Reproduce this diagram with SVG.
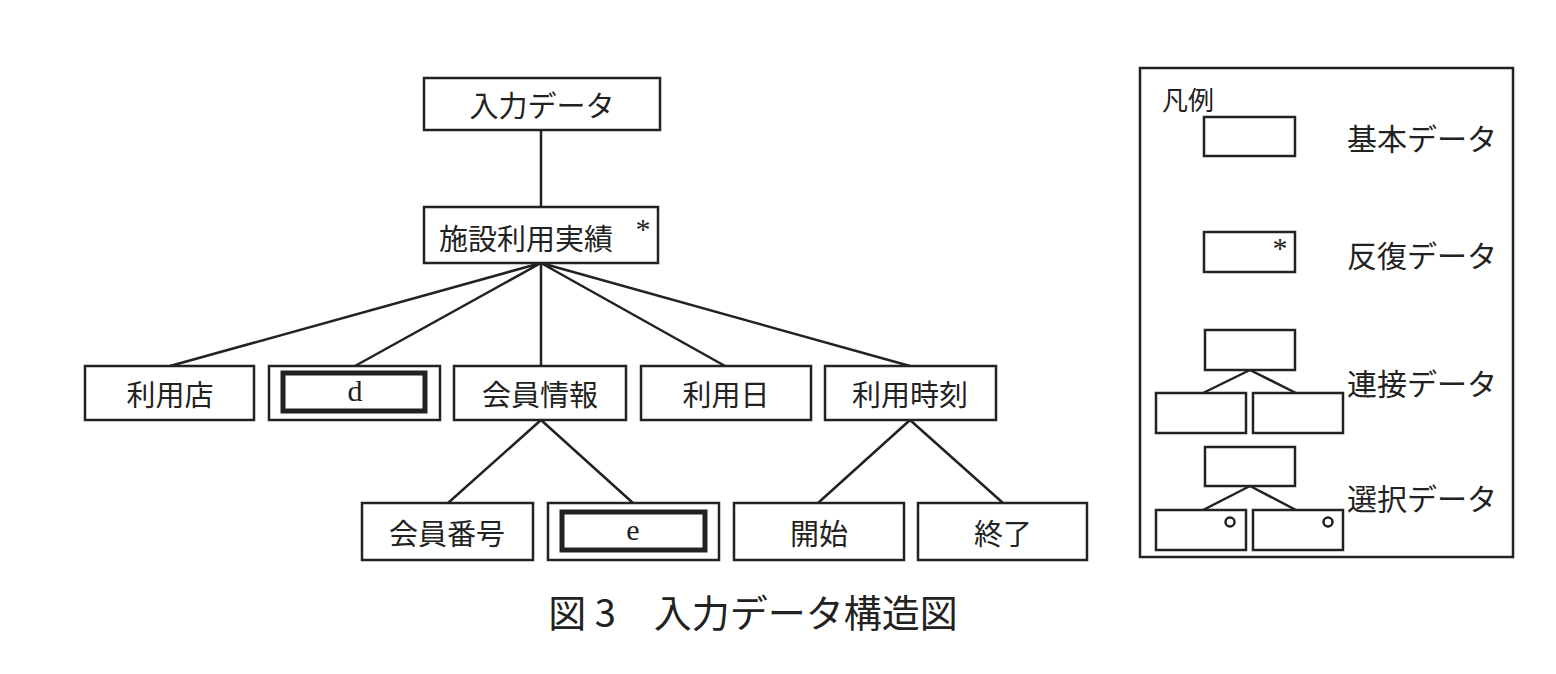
<svg xmlns="http://www.w3.org/2000/svg" width="1556" height="674" viewBox="0 0 1556 674">
<style>
.b{fill:#fff;stroke:#222;stroke-width:2.5}
.in{fill:none;stroke:#222;stroke-width:5}
.l{stroke:#222;stroke-width:2.5;fill:none}
text{font-family:"Noto Sans CJK JP","Liberation Serif",serif;font-size:29px;fill:#222;text-anchor:middle;dominant-baseline:central}
.s{font-family:"Liberation Serif",serif;font-size:30px}
.g{font-size:30px}
</style>
<rect width="1556" height="674" fill="#fff"/>
<g id="connectors">
<path class="l" d="M541 130V207M541 263L170 366M541 263L355 366M541 263V366M541 263L725 366M541 263L910 366M541 420L448 503M541 420L633 503M910 420L818 503M910 420L1003 503"/>
</g>
<g id="n-input"><rect class="b" x="424" y="78" width="236" height="52"/><text x="542" y="104">入力データ</text></g>
<g id="n-shisetsu"><rect class="b" x="424" y="207" width="234" height="56"/><text x="526" y="237">施設利用実績</text><text class="s" x="643" y="228">*</text></g>
<g id="n-riyouten"><rect class="b" x="85" y="366" width="169" height="54"/><text x="170" y="393">利用店</text></g>
<g id="n-d"><rect class="b" x="269" y="366" width="171" height="54"/><rect class="in" x="283" y="373" width="142" height="38"/><text class="s" x="355" y="390">d</text></g>
<g id="n-kaiin"><rect class="b" x="454" y="366" width="172" height="54"/><text x="540" y="393">会員情報</text></g>
<g id="n-riyoubi"><rect class="b" x="641" y="366" width="170" height="54"/><text x="726" y="393">利用日</text></g>
<g id="n-jikoku"><rect class="b" x="825" y="366" width="171" height="54"/><text x="910" y="393">利用時刻</text></g>
<g id="n-bangou"><rect class="b" x="362" y="503" width="171" height="57"/><text x="447" y="532">会員番号</text></g>
<g id="n-e"><rect class="b" x="548" y="503" width="171" height="57"/><rect class="in" x="562" y="512" width="143" height="38"/><text class="s" x="633" y="529">e</text></g>
<g id="n-kaishi"><rect class="b" x="734" y="503" width="170" height="57"/><text x="819" y="532">開始</text></g>
<g id="n-shuryo"><rect class="b" x="918" y="503" width="169" height="57"/><text x="1003" y="532">終了</text></g>
<text x="753" y="610" style="font-size:38px">図 3　入力データ構造図</text>
<g id="legend">
<rect class="b" x="1140" y="68" width="373" height="489"/>
<text x="1188" y="98" style="font-size:26px">凡例</text>
<rect class="b" x="1204" y="117" width="91" height="39"/><text class="g" x="1422" y="137">基本データ</text>
<rect class="b" x="1204" y="232" width="91" height="40"/><text class="s" x="1280" y="247">*</text><text class="g" x="1422" y="254">反復データ</text>
<rect class="b" x="1205" y="330" width="90" height="40"/>
<rect class="b" x="1156" y="393" width="90" height="40"/><rect class="b" x="1253" y="393" width="90" height="40"/>
<path class="l" d="M1250 370L1203 393M1250 370L1296 393M1250 486L1203 510M1250 486L1296 510"/>
<text class="g" x="1422" y="382">連接データ</text>
<rect class="b" x="1205" y="447" width="90" height="39"/>
<rect class="b" x="1156" y="510" width="90" height="40"/><rect class="b" x="1253" y="510" width="90" height="40"/>
<circle class="l" cx="1230" cy="522" r="4.5"/><circle class="l" cx="1328" cy="522" r="4.5"/>
<text class="g" x="1422" y="497">選択データ</text>
</g>
</svg>
